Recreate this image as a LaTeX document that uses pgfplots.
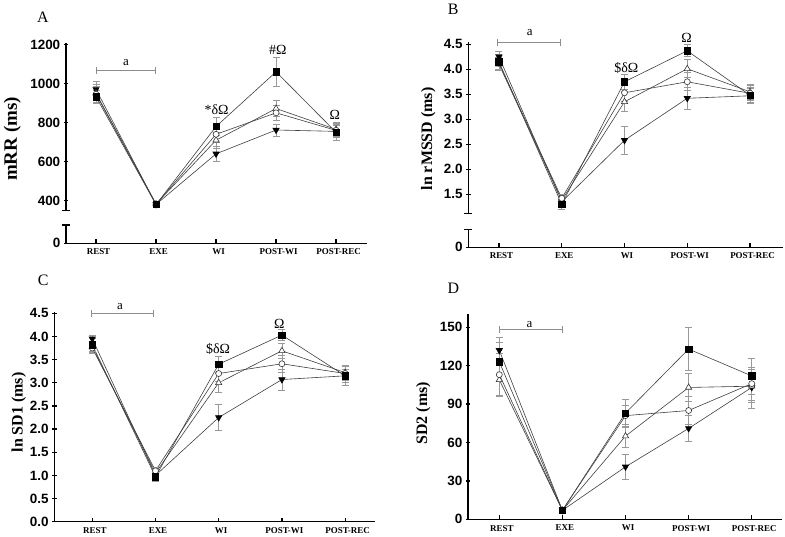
\documentclass[border=0pt]{standalone}
\usepackage{fontspec}
\setmainfont{Liberation Serif}
\setsansfont{Liberation Sans}
\usepackage{pgfplots}
\usepackage{pgfplotstable}
\pgfplotsset{compat=1.18}

% columns: square, open circle, open triangle, filled down-triangle (mean, error)
\pgfplotstableread{
x ysq esq yci eci ytr etr ydn edn
0 932  35 945 40 950 45 970 40
1 380  8  382 8  383 8  381 8
2 780  45 740 40 710 40 640 40
3 1060 75 850 40 872 42 762 30
4 750  40 760 35 765 35 755 30
}\dataA
\pgfplotstableread{
x ysq esq yci eci ytr etr ydn edn
0 4.15 0.15 4.12 0.12 4.10 0.12 4.25 0.10
1 1.30 0.10 1.42 0.08 1.38 0.08 1.35 0.10
2 3.75 0.15 3.53 0.18 3.35 0.20 2.58 0.28
3 4.37 0.12 3.75 0.18 4.01 0.18 3.42 0.22
4 3.48 0.15 3.52 0.15 3.55 0.15 3.47 0.15
}\dataB
\pgfplotstableread{
x ysq esq yci eci ytr etr ydn edn
0 3.82 0.15 3.75 0.12 3.78 0.12 3.95 0.08
1 0.97 0.10 1.10 0.08 1.05 0.08 1.00 0.10
2 3.40 0.17 3.20 0.18 3.00 0.20 2.25 0.28
3 4.03 0.12 3.41 0.18 3.69 0.16 3.07 0.23
4 3.15 0.20 3.20 0.15 3.22 0.15 3.15 0.15
}\dataC
\pgfplotstableread{
x ysq esq yci eci ytr etr ydn edn
0 123 15 113 17 109 12 132 10
1 7   1  7   1  7   1  7   1
2 83  11 81  8  65  9  41  10
3 133 17 85  11 103 11 71  10
4 112 14 106 13 104 13 103 16
}\dataD

\pgfplotsset{
  panel/.style={scale only axis, clip=false,
    tick style={black, line width=1.3bp},
    major tick length=4.5bp, tick align=outside,
    yticklabel style={font=\sffamily\bfseries\fontsize{13.5}{14}\selectfont},
    /pgf/number format/assume math mode=true,
    scaled y ticks=false,
    /pgf/number format/1000 sep={}},
  upper/.style={panel, axis x line=none, axis y line=left,
    axis line style={-, line width=1.5bp}},
  xcats/.style={xtick={0,1,2,3,4},
    xticklabels={REST,EXE,WI,POST-WI,POST-REC},
    xticklabel style={font=\bfseries\fontsize{9}{10}\selectfont, xshift=2.5bp},
    x tick style={draw=none}},
  lower/.style={panel, axis x line=bottom, axis y line=left, xcats,
    axis line style={-, line width=1.5bp}},
  onedec/.style={yticklabel style={/pgf/number format/.cd, fixed, fixed zerofill, precision=1}},
  ser/.style={black!75, line width=0.6bp,
    error bars/y dir=both, error bars/y explicit,
    error bars/error bar style={black!40, line width=0.7bp},
    error bars/error mark options={rotate=90, mark size=3.5bp, black!40, line width=0.7bp}},
  msq/.style={ser, mark=square*, mark size=3.2bp, mark options={draw=black, fill=black}},
  mci/.style={ser, mark=*, mark size=3bp, mark options={draw=black!80, fill=white}},
  mtr/.style={ser, mark=triangle*, mark size=3.6bp, mark options={draw=black!80, fill=white}},
  mdn/.style={ser, mark=triangle*, mark size=3.6bp, mark options={draw=black, fill=black, rotate=180}},
}

\newcommand{\fourseries}[1]{%
  \addplot[mdn] table[x=x, y=ydn, y error=edn] {#1};
  \addplot[mtr] table[x=x, y=ytr, y error=etr] {#1};
  \addplot[mci] table[x=x, y=yci, y error=eci] {#1};
  \addplot[msq] table[x=x, y=ysq, y error=esq] {#1};
}
\newcommand{\xticksup}{%
  \pgfplotsinvokeforeach{0,1,2,3,4}{\draw[line width=1.2bp] (axis cs:##1,\pgfkeysvalueof{/pgfplots/ymin}) -- ++(0bp,4bp);}}
\newcommand{\capbottom}{\draw[line width=1.3bp] (rel axis cs:0,0) ++(-4bp,0bp) -- ++(8bp,0bp);}
\newcommand{\captop}{\draw[line width=1.3bp] (rel axis cs:0,1) ++(-4bp,0bp) -- ++(8bp,0bp);}

\begin{document}
\begin{tikzpicture}[x=1bp, y=1bp]
\path (0,0) rectangle (785,537);

% ---------------- A ----------------
\begin{axis}[upper, at={(66bp,326.3bp)}, anchor=south west,
  width=300.7bp, height=167.6bp, xmin=-0.5, xmax=4.51,
  ymin=348.8, ymax=1207.2, ytick={400,600,800,1000,1200}]
  \fourseries{\dataA}
  \capbottom
  \draw[black!45, line width=0.7bp, |-|] (axis cs:0,1066) -- (axis cs:1,1066);
  \node[font=\fontsize{13}{14}\selectfont] at (axis cs:0.5,1110) {a};
  \node[font=\fontsize{14}{15}\selectfont] at (axis cs:2.01,865) {*δΩ};
  \node[font=\fontsize{14}{15}\selectfont] at (axis cs:3.03,1172) {\#Ω};
  \node[font=\fontsize{14}{15}\selectfont] at (axis cs:3.98,842) {Ω};
\end{axis}
\begin{axis}[lower, at={(66bp,293.7bp)}, anchor=south west,
  width=300.7bp, height=18.3bp, xmin=-0.5, xmax=4.51,
  ymin=0, ymax=1, ytick={0}]
  \captop
  \xticksup
\end{axis}
\node[rotate=90, font=\bfseries\fontsize{19}{20}\selectfont] at (12.3,398) {mRR (ms)};
\node[font=\fontsize{16}{17}\selectfont] at (43,520) {A};

% ---------------- B ----------------
\begin{axis}[upper, onedec, at={(468.3bp,323.7bp)}, anchor=south west,
  width=314.7bp, height=171.5bp, xmin=-0.489, xmax=4.526,
  ymin=1.12, ymax=4.55, ytick={1.5,2,2.5,3,3.5,4,4.5}]
  \fourseries{\dataB}
  \capbottom
  \draw[black!45, line width=0.7bp, |-|] (axis cs:-0.03,4.54) -- (axis cs:0.98,4.54);
  \node[font=\fontsize{13}{14}\selectfont] at (axis cs:0.49,4.74) {a};
  \node[font=\fontsize{14}{15}\selectfont] at (axis cs:2.03,4.03) {\$δΩ};
  \node[font=\fontsize{14}{15}\selectfont] at (axis cs:2.99,4.63) {Ω};
\end{axis}
\begin{axis}[lower, at={(468.3bp,289.7bp)}, anchor=south west,
  width=314.7bp, height=18bp, xmin=-0.489, xmax=4.526,
  ymin=0, ymax=1, ytick={0}]
  \captop
  \xticksup
\end{axis}
\node[rotate=90, font=\bfseries\fontsize{16}{17}\selectfont] at (428.3,398) {ln rMSSD (ms)};
\node[font=\fontsize{16}{17}\selectfont] at (453.3,528) {B};

% ---------------- C ----------------
\begin{axis}[lower, onedec, at={(54.3bp,15.3bp)}, anchor=south west,
  width=320.7bp, height=210bp, xmin=-0.601, xmax=4.473,
  ymin=0, ymax=4.535, ytick={0,0.5,1,1.5,2,2.5,3,3.5,4,4.5}]
  \fourseries{\dataC}
  \xticksup
  \draw[black!45, line width=0.7bp, |-|] (axis cs:-0.02,4.5) -- (axis cs:0.97,4.5);
  \node[font=\fontsize{13}{14}\selectfont] at (axis cs:0.44,4.64) {a};
  \node[font=\fontsize{14}{15}\selectfont] at (axis cs:1.99,3.74) {\$δΩ};
  \node[font=\fontsize{14}{15}\selectfont] at (axis cs:2.96,4.28) {Ω};
\end{axis}
\node[rotate=90, font=\bfseries\fontsize{16}{17}\selectfont] at (18.7,124.5) {ln SD1 (ms)};
\node[font=\fontsize{16}{17}\selectfont] at (43.3,257) {C};

% ---------------- D ----------------
\begin{axis}[lower, at={(468bp,17.7bp)}, anchor=south west,
  width=313.7bp, height=205.3bp, xmin=-0.496, xmax=4.475,
  ymin=0, ymax=160.4, ytick={0,30,60,90,120,150}]
  \fourseries{\dataD}
  \xticksup
  \draw[black!45, line width=0.7bp, |-|] (axis cs:0,148.4) -- (axis cs:1,148.4);
  \node[font=\fontsize{13}{14}\selectfont] at (axis cs:0.48,152.3) {a};
\end{axis}
\node[rotate=90, font=\bfseries\fontsize{16}{17}\selectfont] at (423.3,123.7) {SD2 (ms)};
\node[font=\fontsize{16}{17}\selectfont] at (453.3,248.7) {D};
\end{tikzpicture}
\end{document}
